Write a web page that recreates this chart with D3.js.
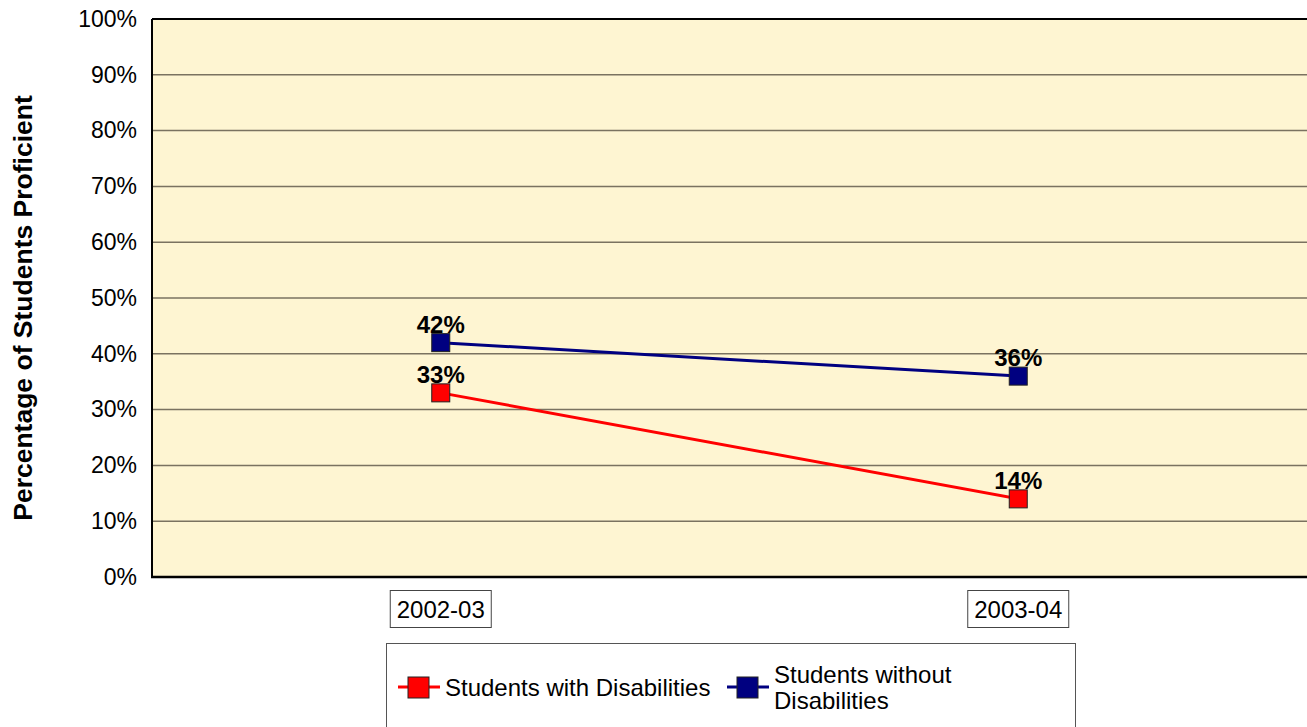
<!DOCTYPE html>
<html>
<head>
<meta charset="utf-8">
<script src="https://cdn.jsdelivr.net/npm/d3@7"></script>
<style>
  html, body { margin: 0; padding: 0; background: #fff; }
  svg { display: block; font-family: "Liberation Sans", Arial, sans-serif; }
</style>
</head>
<body>
<svg id="chart" width="1307" height="727"></svg>
<script>
// Proficiency rates by school year
const years = ["2002-03", "2003-04"];
const withDisabilities = [33, 14];
const withoutDisabilities = [42, 36];
const seriesNames = ["Students with Disabilities", "Students without Disabilities"];
const yTicks = [0, 10, 20, 30, 40, 50, 60, 70, 80, 90, 100];

const series = [
  { name: seriesNames[0], values: withDisabilities, color: "#FF0000", legendLines: ["Students with Disabilities"] },
  { name: seriesNames[1], values: withoutDisabilities, color: "#000080", legendLines: ["Students without", "Disabilities"] }
];

const svg = d3.select("#chart");
const plot = { left: 152, right: 1307, top: 19, bottom: 577 };

const x = d3.scalePoint().domain(years).range([plot.left, plot.right]).padding(0.5);
const y = d3.scaleLinear().domain([0, 100]).range([plot.bottom, plot.top]);

// Plot background
svg.append("rect")
  .attr("x", plot.left).attr("y", plot.top)
  .attr("width", plot.right - plot.left).attr("height", plot.bottom - plot.top)
  .attr("fill", "#FEF5D2");

// Horizontal gridlines
svg.append("g").selectAll("line")
  .data(yTicks.filter(t => t > 0 && t < 100))
  .join("line")
  .attr("x1", plot.left).attr("x2", plot.right)
  .attr("y1", d => y(d)).attr("y2", d => y(d))
  .attr("stroke", "#7A7260").attr("stroke-width", 1.5);

// Frame: top, left and bottom edges
svg.append("line").attr("x1", plot.left).attr("x2", plot.right)
  .attr("y1", plot.top).attr("y2", plot.top).attr("stroke", "#000").attr("stroke-width", 2);
svg.append("line").attr("x1", plot.left).attr("x2", plot.left)
  .attr("y1", plot.top).attr("y2", plot.bottom + 1).attr("stroke", "#000").attr("stroke-width", 2);
svg.append("line").attr("x1", plot.left - 1).attr("x2", plot.right)
  .attr("y1", plot.bottom).attr("y2", plot.bottom).attr("stroke", "#000").attr("stroke-width", 2.5);

// Y axis labels
const yAxis = d3.axisLeft(y).tickValues(yTicks).tickFormat(d => d + "%").tickSize(0).tickPadding(15);
const yg = svg.append("g").attr("transform", `translate(${plot.left},0)`).call(yAxis);
yg.select(".domain").remove();
yg.selectAll("text").attr("font-size", 23).attr("fill", "#000")
  .attr("font-family", "Liberation Sans, Arial, sans-serif");

// Y axis title
svg.append("text")
  .attr("transform", `translate(31.5,308) rotate(-90)`)
  .attr("text-anchor", "middle")
  .attr("font-size", 26.5).attr("font-weight", "bold")
  .text("Percentage of Students Proficient");

// Category labels in boxes
const catG = svg.append("g").selectAll("g").data(years).join("g")
  .attr("transform", d => `translate(${x(d)},609)`);
catG.append("rect")
  .attr("x", -50.5).attr("y", -18.5).attr("width", 101).attr("height", 37)
  .attr("fill", "#fff").attr("stroke", "#444").attr("stroke-width", 1);
catG.append("text")
  .attr("text-anchor", "middle").attr("dy", "0.36em")
  .attr("font-size", 24).text(d => d);

// Lines and markers
const line = d3.line().x((d, i) => x(years[i])).y(d => y(d));
const markerSize = 18;

series.forEach(s => {
  svg.append("path")
    .datum(s.values)
    .attr("d", line)
    .attr("fill", "none")
    .attr("stroke", s.color)
    .attr("stroke-width", 3);
});

series.forEach(s => {
  const g = svg.append("g");
  g.selectAll("rect").data(s.values).join("rect")
    .attr("x", (d, i) => x(years[i]) - markerSize / 2)
    .attr("y", d => y(d) - markerSize / 2)
    .attr("width", markerSize).attr("height", markerSize)
    .attr("fill", s.color).attr("stroke", "#222").attr("stroke-width", 1);
  g.selectAll("text").data(s.values).join("text")
    .attr("x", (d, i) => x(years[i]))
    .attr("y", d => y(d) - 10)
    .attr("text-anchor", "middle")
    .attr("font-size", 24).attr("font-weight", "bold")
    .text(d => d + "%");
});

// Legend
const legend = svg.append("g");
legend.append("rect")
  .attr("x", 386.5).attr("y", 643.5).attr("width", 689).attr("height", 100)
  .attr("fill", "#fff").attr("stroke", "#555").attr("stroke-width", 1);

const legendItems = [
  { s: series[0], lx: 398 },
  { s: series[1], lx: 727 }
];
legendItems.forEach(({ s, lx }) => {
  const cy = 687;
  legend.append("line")
    .attr("x1", lx).attr("x2", lx + 42).attr("y1", cy).attr("y2", cy)
    .attr("stroke", s.color).attr("stroke-width", 3);
  legend.append("rect")
    .attr("x", lx + 10).attr("y", cy - 10).attr("width", 21).attr("height", 21)
    .attr("fill", s.color).attr("stroke", "#222").attr("stroke-width", 1);
  const t = legend.append("text")
    .attr("x", lx + 47)
    .attr("font-size", 24);
  const n = s.legendLines.length;
  s.legendLines.forEach((ln, i) => {
    t.append("tspan")
      .attr("x", lx + 47)
      .attr("y", cy + 8.5 + (i - (n - 1) / 2) * 26)
      .text(ln);
  });
});
</script>
</body>
</html>
